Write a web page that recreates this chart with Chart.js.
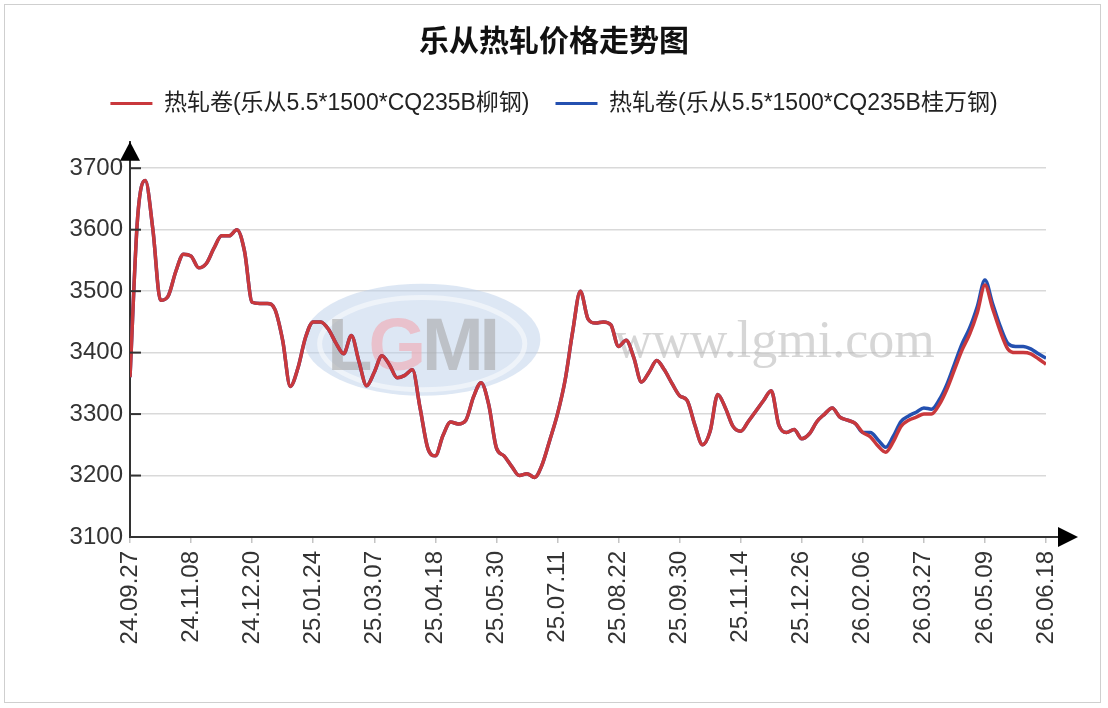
<!DOCTYPE html>
<html>
<head>
<meta charset="utf-8">
<script src="https://cdn.jsdelivr.net/npm/chart.js@4.4.1/dist/chart.umd.min.js"></script>
<style>
html,body{margin:0;padding:0;background:#fff;}
#wrap{position:relative;width:1108px;height:708px;overflow:hidden;}
#frame{position:absolute;left:4px;top:4px;width:1097px;height:699px;border:1px solid #cfcfcf;box-sizing:border-box;pointer-events:none;}
canvas{display:block;}
</style>
</head>
<body>
<div id="wrap"><canvas id="c" width="1108" height="708"></canvas><div id="frame"></div></div>
<script>
const chartTitle = '乐从热轧价格走势图';
const seriesNames = ['热轧卷(乐从5.5*1500*CQ235B柳钢)', '热轧卷(乐从5.5*1500*CQ235B桂万钢)'];
const tickLabels = ['24.09.27','24.11.08','24.12.20','25.01.24','25.03.07','25.04.18','25.05.30','25.07.11',
                    '25.08.22','25.09.30','25.11.14','25.12.26','26.02.06','26.03.27','26.05.09','26.06.18'];
const pointsPerLabel = 8;
const yTickValues = [3100, 3200, 3300, 3400, 3500, 3600, 3700];
const yAxisTop = 3743;   // axis runs a little past the last tick, up to the arrow

const liuSteel = [
  3360,3620,3680,3600,3485,3492,3532,3560,3557,3538,
  3545,3570,3590,3590,3600,3565,3482,3480,3480,3470,
  3420,3345,3375,3425,3450,3450,3438,3415,3398,3428,
  3385,3346,3368,3395,3380,3359,3363,3372,3310,3245,
  3232,3265,3287,3284,3290,3328,3351,3315,3245,3232,
  3215,3200,3203,3197,3218,3258,3300,3355,3435,3500,
  3455,3448,3450,3445,3410,3420,3392,3352,3368,3387,
  3372,3350,3330,3322,3282,3250,3272,3332,3310,3280,
  3272,3288,3305,3322,3338,3282,3270,3275,3260,3268,
  3288,3300,3310,3295,3290,3285,3270,3263,3248,3238,
  3255,3280,3290,3295,3300,3300,3315,3340,3372,3404,
  3430,3465,3510,3472,3435,3406,3400,3400,3398,3390,
  3381
];
const guiwanSteel = [
  3360,3620,3680,3600,3485,3492,3532,3560,3557,3538,
  3545,3570,3590,3590,3600,3565,3482,3480,3480,3470,
  3420,3345,3375,3425,3450,3450,3438,3415,3398,3428,
  3385,3346,3368,3395,3380,3359,3363,3372,3310,3245,
  3232,3265,3287,3284,3290,3328,3351,3315,3245,3232,
  3215,3200,3203,3197,3218,3258,3300,3355,3435,3500,
  3455,3448,3450,3445,3410,3420,3392,3352,3368,3387,
  3372,3350,3330,3322,3282,3250,3272,3332,3310,3280,
  3272,3288,3305,3322,3338,3282,3270,3275,3260,3268,
  3288,3300,3310,3295,3290,3285,3270,3270,3258,3246,
  3264,3288,3297,3303,3310,3308,3323,3348,3381,3414,
  3440,3475,3518,3480,3443,3415,3410,3410,3406,3398,
  3391
];

const latinFont = "'Liberation Sans', Arial, 'Noto Sans CJK SC', sans-serif";
const cjkFont = "'Noto Sans CJK SC', 'Liberation Sans', sans-serif";
const toPoints = arr => arr.map((v, i) => ({x: i, y: v}));

const decor = {
  id: 'decor',
  beforeDatasetsDraw(chart) {
    const {ctx, chartArea: a} = chart;
    const ys = chart.scales.y;
    const top = ys.getPixelForValue(yTickValues[yTickValues.length - 1]);
    const w = a.right - a.left, h = a.bottom - top;
    ctx.save();
    // LGMI logo watermark
    const cx = a.left + 0.319 * w, cy = top + 0.465 * h;
    ctx.globalAlpha = 0.5;
    ctx.fillStyle = '#bcd0ea';
    ctx.beginPath(); ctx.ellipse(cx, cy, 0.129 * w, 0.152 * h, 0, 0, Math.PI * 2); ctx.fill();
    ctx.strokeStyle = '#ffffff'; ctx.lineWidth = 5;
    ctx.beginPath(); ctx.ellipse(cx, cy + 4, 0.112 * w, 0.125 * h, 0, 0, Math.PI * 2); ctx.stroke();
    ctx.globalAlpha = 0.6;
    ctx.font = "bold 74px 'Liberation Sans', Arial, sans-serif";
    ctx.textBaseline = 'alphabetic';
    const letters = ['L','G','M','I'];
    const cols = ['#a9a9a9','#f2a9b0','#a9a9a9','#a9a9a9'];
    let tx = cx - 95;
    letters.forEach((l, i) => {
      ctx.fillStyle = cols[i];
      ctx.fillText(l, tx, cy + 30);
      tx += ctx.measureText(l).width - 4;
    });
    // site text watermark
    ctx.globalAlpha = 0.55;
    ctx.fillStyle = '#b4b4b4';
    ctx.font = "52px 'Liberation Serif', 'DejaVu Serif', serif";
    ctx.fillText('www.lgmi.com', a.left + 0.529 * w, top + 0.512 * h);
    ctx.restore();
  },
  afterDraw(chart) {
    const {ctx, chartArea: a} = chart;
    const ys = chart.scales.y;
    ctx.save();
    ctx.fillStyle = '#000';
    ctx.strokeStyle = '#333';
    ctx.lineWidth = 2;
    // y-axis arrow at the top of the axis line
    ctx.beginPath();
    ctx.moveTo(a.left, a.top); ctx.lineTo(a.left - 10, a.top + 19); ctx.lineTo(a.left + 10, a.top + 19);
    ctx.closePath(); ctx.fill();
    // x-axis extension and arrow
    ctx.beginPath(); ctx.moveTo(a.right, a.bottom); ctx.lineTo(a.right + 14, a.bottom); ctx.stroke();
    ctx.beginPath();
    ctx.moveTo(a.right + 32, a.bottom); ctx.lineTo(a.right + 12, a.bottom - 10); ctx.lineTo(a.right + 12, a.bottom + 10);
    ctx.closePath(); ctx.fill();
    // inward y tick marks
    ys.ticks.forEach(t => {
      const py = ys.getPixelForValue(t.value);
      ctx.beginPath(); ctx.moveTo(a.left, py); ctx.lineTo(a.left + 11, py); ctx.stroke();
    });
    ctx.restore();
  }
};

new Chart(document.getElementById('c'), {
  type: 'line',
  data: {
    datasets: [
      {label: seriesNames[0], data: toPoints(liuSteel), borderColor: '#c9383c', backgroundColor: '#c9383c',
       borderWidth: 3.5, pointRadius: 0, cubicInterpolationMode: 'monotone'},
      {label: seriesNames[1], data: toPoints(guiwanSteel), borderColor: '#2450b0', backgroundColor: '#2450b0',
       borderWidth: 3.5, pointRadius: 0, cubicInterpolationMode: 'monotone'}
    ]
  },
  options: {
    responsive: false,
    animation: false,
    layout: {padding: 0},
    plugins: {
      title: {display: true, text: chartTitle, color: '#111',
              font: {family: cjkFont, size: 30, weight: 'bold'}, padding: {top: 22, bottom: 8}},
      subtitle: {display: true, text: '', weight: 500, position: 'top',
                 font: {size: 14, lineHeight: 1.2}, padding: 0},
      legend: {display: true, position: 'top',
        labels: {boxWidth: 42, boxHeight: 3, padding: 26, color: '#222',
                 font: {family: latinFont, size: 23},
                 generateLabels(chart) {
                   const items = Chart.defaults.plugins.legend.labels.generateLabels(chart);
                   items.forEach(it => { it.lineWidth = 0; });
                   return items;
                 }}},
      tooltip: {enabled: false}
    },
    scales: {
      x: {
        type: 'linear',
        min: 0,
        max: (tickLabels.length - 1) * pointsPerLabel,
        afterBuildTicks: s => { s.ticks = tickLabels.map((t, i) => ({value: i * pointsPerLabel})); },
        afterFit: s => { s.height = 171; },
        ticks: {
          autoSkip: false, minRotation: 90, maxRotation: 90, padding: 8, color: '#333',
          font: {family: latinFont, size: 24},
          callback: v => tickLabels[Math.round(v / pointsPerLabel)]
        },
        grid: {drawOnChartArea: false, drawTicks: true, tickLength: 6, color: '#c4c4c4', lineWidth: 1.5},
        border: {display: true, color: '#333', width: 2}
      },
      y: {
        min: yTickValues[0], max: yAxisTop,
        afterBuildTicks: s => { s.ticks = yTickValues.map(v => ({value: v})); },
        afterFit: s => { s.width = 130; },
        ticks: {padding: 7, color: '#333', font: {family: latinFont, size: 24},
                callback: v => String(v)},
        grid: {color: '#d9d9d9', lineWidth: 1.5, drawTicks: false},
        border: {display: true, color: '#333', width: 2}
      },
      yRight: {
        position: 'right', min: yTickValues[0], max: yAxisTop,
        afterFit: s => { s.width = 62; },
        ticks: {display: false},
        grid: {display: false, drawTicks: false},
        border: {display: false}
      }
    }
  },
  plugins: [decor]
});
</script>
</body>
</html>
